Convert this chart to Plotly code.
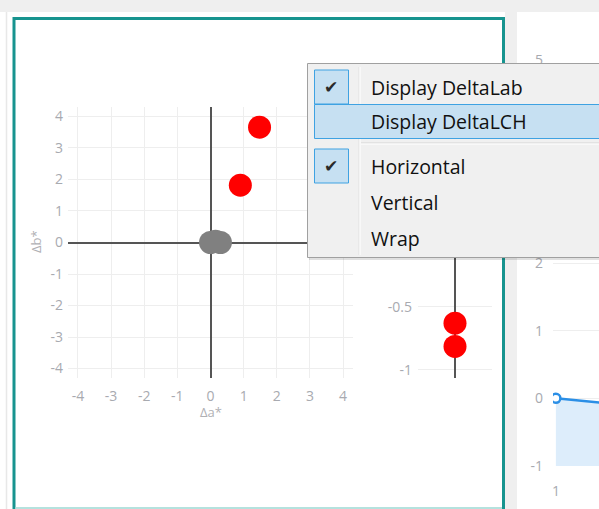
import plotly.graph_objects as go

# ─── Données ──────────────────────────────────────────────
# nuage Δa* / Δb*
red_a = [1.48, 0.9]
red_b = [3.66, 1.82]
gray_a = [0.0, 0.15, 0.3]
gray_b = [0.0, 0.04, 0.0]

# bande verticale (ΔL)
strip_x = [0, 0]
strip_y = [-0.63, -0.815]

# panneau de droite (série temporelle)
trend_x = [1, 2]
trend_y = [0.0, -0.08]
trend_base = [-1, -1]

ab_ticks = [-4, -3, -2, -1, 0, 1, 2, 3, 4]
ab_ticktext = ["-4", "-3", "-2", "-1", "0", "1", "2", "3", "4"]
strip_ticks = [-1, -0.5, 0, 0.5, 1]
strip_ticktext = ["-1", "-0.5", "0", "0.5", "1"]
trend_yticks = [-1, 0, 1, 2, 3, 4, 5]
trend_yticktext = ["-1", "0", "1", "2", "3", "4", "5"]

menu_items = ["Display DeltaLab", "Display DeltaLCH", "Horizontal", "Vertical", "Wrap"]
menu_checked = [True, False, True, False, False]

W, H = 599, 509


def px(x):
    return x / W


def py(y):
    return 1 - y / H


TICK_FONT = dict(family="Open Sans, sans-serif", size=14, color="#a8aab0")
GRID = "#eeeeee"

fig = go.Figure()

# graphique principal
fig.add_trace(go.Scatter(
    x=gray_a, y=gray_b, mode="markers",
    marker=dict(color="#808080", size=23),
    xaxis="x", yaxis="y", showlegend=False,
))
fig.add_trace(go.Scatter(
    x=red_a, y=red_b, mode="markers",
    marker=dict(color="#ff0000", size=23),
    xaxis="x", yaxis="y", showlegend=False,
))

# bande verticale
fig.add_trace(go.Scatter(
    x=strip_x, y=strip_y, mode="markers",
    marker=dict(color="#ff0000", size=23),
    xaxis="x2", yaxis="y2", showlegend=False,
))

# panneau de droite
fig.add_trace(go.Scatter(
    x=trend_x, y=trend_base, mode="lines",
    line=dict(width=0, color="rgba(0,0,0,0)"),
    xaxis="x3", yaxis="y3", showlegend=False,
))
fig.add_trace(go.Scatter(
    x=trend_x, y=trend_y, mode="lines+markers",
    line=dict(color="#2b8fe6", width=2.5),
    marker=dict(size=9, color="white", line=dict(color="#2b8fe6", width=2.5)),
    fill="tonexty", fillcolor="#ddedfb",
    xaxis="x3", yaxis="y3", showlegend=False,
))

axis_common = dict(showline=False, ticks="", gridcolor=GRID, tickfont=TICK_FONT,
                   automargin=False)

fig.update_layout(
    template="none",
    width=W, height=H,
    margin=dict(l=0, r=0, t=0, b=0, pad=0, autoexpand=False),
    paper_bgcolor="white", plot_bgcolor="white",
    xaxis=dict(domain=[px(68), px(353)], range=[-4.3, 4.3],
               tickvals=ab_ticks, ticktext=ab_ticktext,
               zeroline=True, zerolinecolor="#555555", zerolinewidth=2,
               ticklabelstandoff=8, **axis_common),
    yaxis=dict(domain=[py(378), py(107)], range=[-4.3, 4.3],
               tickvals=ab_ticks, ticktext=ab_ticktext,
               zeroline=True, zerolinecolor="#555555", zerolinewidth=2,
               ticklabelstandoff=4, **axis_common),
    xaxis2=dict(domain=[px(418), px(492)], range=[-1, 1], anchor="y2",
                showticklabels=False, showgrid=False, automargin=False,
                zeroline=True, zerolinecolor="#555555", zerolinewidth=2),
    yaxis2=dict(domain=[py(378), py(107)], range=[-1.065, 1.085], anchor="x2",
                tickvals=strip_ticks, ticktext=strip_ticktext,
                zeroline=False, ticklabelstandoff=5, **axis_common),
    xaxis3=dict(domain=[px(553), 1], range=[0.95, 1.75], anchor="y3",
                tickvals=[1], ticktext=["1"], showgrid=False, zeroline=False,
                ticklabelstandoff=15, **axis_common),
    yaxis3=dict(domain=[py(466), py(60)], range=[-1, 5], anchor="x3",
                tickvals=trend_yticks, ticktext=trend_yticktext,
                zeroline=False, ticklabelstandoff=9, **axis_common),
)

shapes = []
# fond gris haut + bande entre panneaux
shapes.append(dict(type="rect", xref="paper", yref="paper", layer="below",
                   x0=px(0), x1=px(W), y0=py(12), y1=py(0),
                   fillcolor="#efefef", line=dict(width=0)))
shapes.append(dict(type="rect", xref="paper", yref="paper", layer="below",
                   x0=px(505), x1=px(517), y0=py(H), y1=py(12),
                   fillcolor="#efefef", line=dict(width=0)))
shapes.append(dict(type="line", xref="paper", yref="paper", layer="below",
                   x0=px(6.5), x1=px(6.5), y0=py(H), y1=py(12),
                   line=dict(color="#e8e8e8", width=1.5)))
# cadre turquoise
shapes.append(dict(type="rect", xref="paper", yref="paper", layer="below",
                   x0=px(14), x1=px(503.5), y0=py(540), y1=py(18.5),
                   fillcolor="rgba(0,0,0,0)", line=dict(color="#17948f", width=3)))
shapes.append(dict(type="line", xref="paper", yref="paper", layer="above",
                   x0=px(15.5), x1=px(502), y0=py(508), y1=py(508),
                   line=dict(color="#b5e2de", width=2)))

# menu contextuel
shapes.append(dict(type="rect", xref="paper", yref="paper", layer="above",
                   x0=px(309), x1=px(620), y0=py(260), y1=py(66),
                   fillcolor="rgba(0,0,0,0.12)", line=dict(width=0)))
shapes.append(dict(type="rect", xref="paper", yref="paper", layer="above",
                   x0=px(307.5), x1=px(620), y0=py(257.5), y1=py(63.5),
                   fillcolor="#f0f0f0", line=dict(color="#a0a0a0", width=1)))
shapes.append(dict(type="line", xref="paper", yref="paper", layer="above",
                   x0=px(359), x1=px(359), y0=py(255), y1=py(67),
                   line=dict(color="#e0e0e0", width=1)))
shapes.append(dict(type="line", xref="paper", yref="paper", layer="above",
                   x0=px(360), x1=px(360), y0=py(255), y1=py(67),
                   line=dict(color="#ffffff", width=1)))
shapes.append(dict(type="rect", xref="paper", yref="paper", layer="above",
                   x0=px(314.5), x1=px(620), y0=py(138.5), y1=py(104.5),
                   fillcolor="#c6e0f2", line=dict(color="#3fa2e2", width=1)))
shapes.append(dict(type="line", xref="paper", yref="paper", layer="above",
                   x0=px(361), x1=px(W), y0=py(143), y1=py(143),
                   line=dict(color="#d5d5d5", width=1)))
shapes.append(dict(type="line", xref="paper", yref="paper", layer="above",
                   x0=px(361), x1=px(W), y0=py(144), y1=py(144),
                   line=dict(color="#ffffff", width=1)))

row_y = [87, 122, 166, 202, 238]
annotations = []
for label, checked, yc in zip(menu_items, menu_checked, row_y):
    if checked:
        shapes.append(dict(type="rect", xref="paper", yref="paper", layer="above",
                           x0=px(314.5), x1=px(348.5), y0=py(yc + 17), y1=py(yc - 17),
                           fillcolor="#c6e0f2", line=dict(color="#3fa2e2", width=1)))
        annotations.append(dict(x=px(331), y=py(yc), xref="paper", yref="paper",
                                xanchor="center", yanchor="middle",
                                text="✔", showarrow=False,
                                font=dict(family="DejaVu Sans", size=17, color="#2a2a2a")))
    annotations.append(dict(x=px(369), y=py(yc), xref="paper", yref="paper",
                            text=label, showarrow=False,
                            xanchor="left", yanchor="middle",
                            font=dict(family="Open Sans, sans-serif", size=19.5, color="#111111")))

# titres des axes
annotations.append(dict(x=px(36), y=py(242), xref="paper", yref="paper", text="Δb*",
                        textangle=-90, showarrow=False,
                        xanchor="center", yanchor="middle",
                        font=dict(family="Open Sans, sans-serif", size=13, color="#b0b0b4")))
annotations.append(dict(x=px(211), y=py(412), xref="paper", yref="paper", text="Δa*",
                        showarrow=False, xanchor="center", yanchor="middle",
                        font=dict(family="Open Sans, sans-serif", size=13, color="#b0b0b4")))

fig.update_layout(shapes=shapes, annotations=annotations)

# page sans marge : le graphique occupe exactement la fenêtre
fix_page = (
    "var gd=document.getElementById('{plot_id}');"
    "gd.style.position='fixed';gd.style.top='0px';gd.style.left='0px';"
    "document.body.style.margin='0';"
    "document.documentElement.style.overflow='hidden';"
    "document.body.style.overflow='hidden';"
)

fig.write_html("out.html", config={"displayModeBar": False}, post_script=fix_page)
